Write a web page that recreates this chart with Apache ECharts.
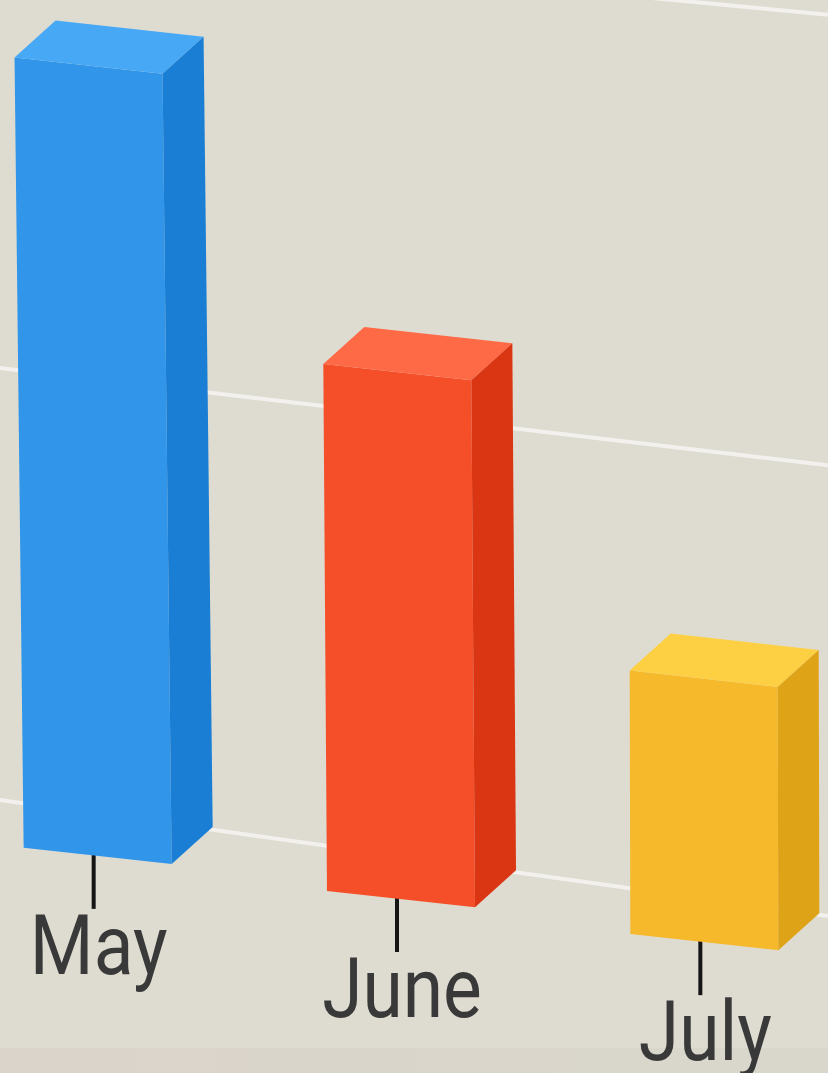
<!DOCTYPE html>
<html>
<head>
<meta charset="utf-8">
<script src="https://cdn.jsdelivr.net/npm/echarts@6/dist/echarts.min.js"></script>
<style>
  html, body { margin: 0; padding: 0; background: #dedcd1; }
  #chart { width: 828px; height: 1073px; }
</style>
</head>
<body>
<div id="chart"></div>
<script>
const months = ['May', 'June', 'July']
const sales = [18, 12, 6]
const gridValues = [0, 10, 20]

// front / top / side shade for each bar
const palette = [
  { front: '#3196e9', top: '#47a9f6', side: '#1a7ed5' },
  { front: '#f54f2a', top: '#ff6a46', side: '#db3613' },
  { front: '#f6b92c', top: '#fdd043', side: '#dfa318' }
]

const chart = echarts.init(document.getElementById('chart'))

// the picture is seen a bit from the side: rows lean down to the right
function slope (y) {
  return 0.095 + (y + 64) * (0.045 / 864)
}
function proj (x, y) {
  return [x, y + slope(y) * x]
}
const depth = [41, -37]
const add = (p, d) => [p[0] + d[0], p[1] + d[1]]

function renderBar (params, api) {
  const i = api.value(0)
  const base = api.coord([i, 0])
  const top = api.coord([i, api.value(1)])
  const h = base[1] - top[1]
  const w = api.size([1, 0])[0] * 0.488
  const a = proj(base[0], base[1])
  const c = 0.013 - a[0] * 0.000015
  const k = 0.11
  const L = (lx, ly) => [a[0] + lx + c * ly, a[1] + ly + k * lx]
  const flb = L(-w / 2, 0)
  const frb = L(w / 2, 0)
  const frt = L(w / 2, -h)
  const flt = L(-w / 2, -h)
  const col = palette[i]
  return {
    type: 'group',
    children: [
      {
        type: 'line',
        shape: { x1: a[0] - 4, y1: a[1] - 2, x2: a[0] - 4, y2: a[1] + 53 },
        style: { stroke: '#151515', lineWidth: 4 }
      },
      {
        type: 'polygon',
        shape: { points: [flb, frb, frt, flt] },
        style: { fill: col.front }
      },
      {
        type: 'polygon',
        shape: { points: [flt, frt, add(frt, depth), add(flt, depth)] },
        style: { fill: col.top }
      },
      {
        type: 'polygon',
        shape: { points: [frb, frt, add(frt, depth), add(frb, depth)] },
        style: { fill: col.side }
      },
      {
        type: 'text',
        x: a[0] + 1,
        y: a[1] + 97,
        scaleX: 0.87,
        style: {
          text: months[i],
          x: 0,
          y: 0,
          fill: '#393939',
          fontSize: 84,
          fontFamily: 'Roboto',
          align: 'center',
          verticalAlign: 'middle'
        }
      }
    ]
  }
}

function renderGridLine (params, api) {
  const y0 = api.coord([0, 0])[1]
  const yv = api.coord([0, api.value(1)])[1]
  // gridlines sit on the back wall, a little smaller than the front
  const y = y0 - 42 - 0.984 * (y0 - yv)
  const p1 = proj(-30, y)
  const p2 = proj(870, y)
  return {
    type: 'line',
    shape: { x1: p1[0], y1: p1[1], x2: p2[0], y2: p2[1] },
    style: { stroke: 'rgba(255,255,255,0.6)', lineWidth: 4 }
  }
}

const option = {
  backgroundColor: '#dedcd1',
  animation: false,
  grid: {
    left: -54,
    right: -28,
    top: -36,
    bottom: 231,
    outerBoundsMode: 'none'
  },
  graphic: [
    {
      type: 'rect',
      z: 0,
      shape: { x: 0, y: 1048, width: 828, height: 25 },
      style: {
        fill: {
          type: 'linear', x: 0, y: 0, x2: 1, y2: 0,
          colorStops: [
            { offset: 0, color: '#dbd4ca' },
            { offset: 1, color: '#d9d7cc' }
          ]
        }
      }
    }
  ],
  xAxis: {
    type: 'category',
    data: months,
    axisLine: { show: false },
    axisTick: { show: false },
    axisLabel: { show: false }
  },
  yAxis: {
    type: 'value',
    min: 0,
    max: 20,
    interval: 10,
    axisLabel: { show: false },
    splitLine: { show: false }
  },
  series: [
    {
      type: 'custom',
      z: 1,
      renderItem: renderGridLine,
      data: gridValues.map(v => [0, v])
    },
    {
      type: 'custom',
      z: 2,
      renderItem: renderBar,
      data: sales.map((v, i) => [i, v])
    }
  ]
}
chart.setOption(option)
</script>
</body>
</html>
